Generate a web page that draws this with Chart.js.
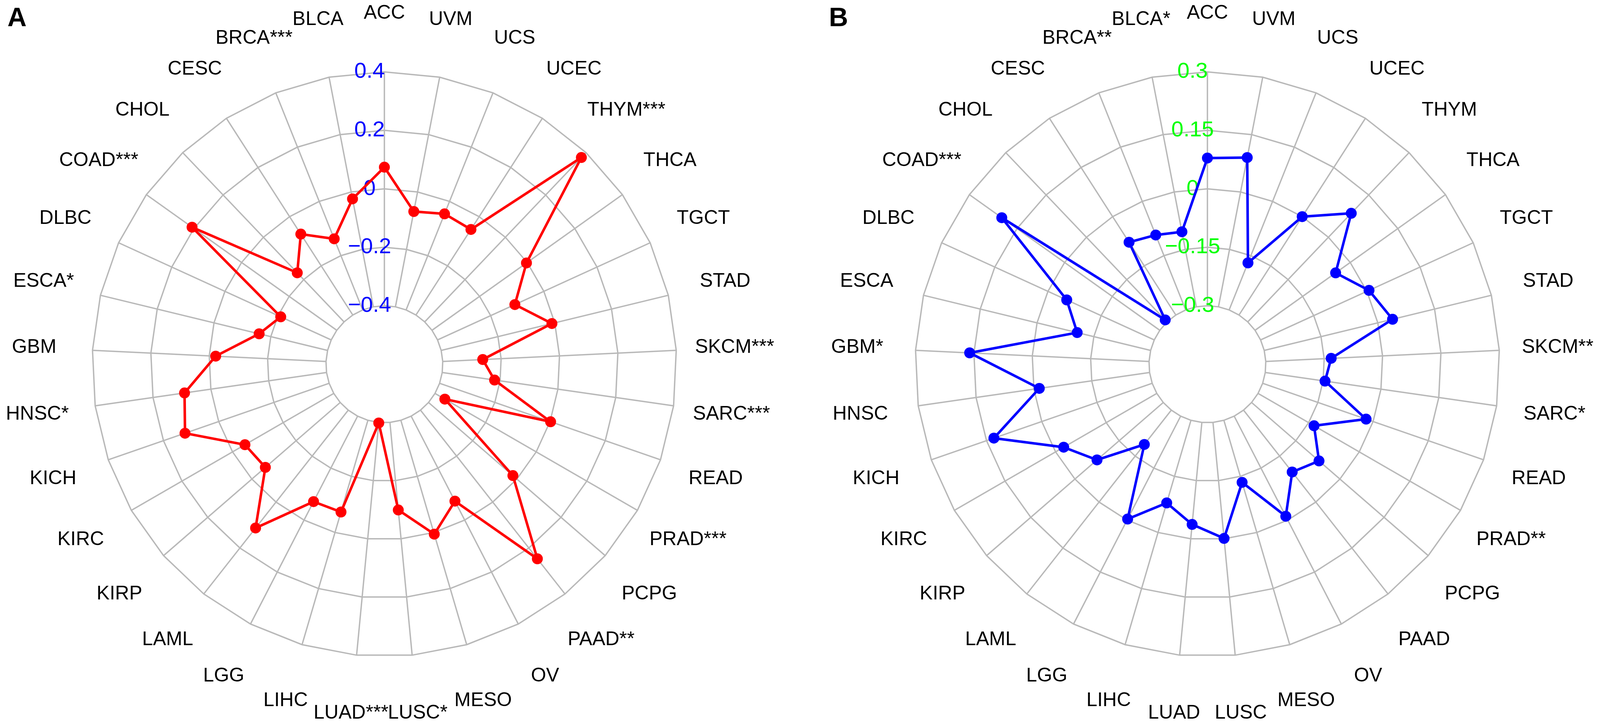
<!DOCTYPE html>
<html>
<head>
<meta charset="utf-8">
<title>Radar charts A and B</title>
<script src="https://cdn.jsdelivr.net/npm/chart.js@4.4.1/dist/chart.umd.min.js"></script>
<style>
  html, body { margin: 0; padding: 0; background: #fff; overflow: hidden; }
  .panel { position: absolute; top: 0; width: 2050px; height: 1863px; }
  #panelA { left: 0; }
  #panelB { left: 2050px; }
</style>
</head>
<body>
<div class="panel" id="panelA"><canvas id="chartA"></canvas></div>
<div class="panel" id="panelB"><canvas id="chartB"></canvas></div>
<script>
// cancer types, clockwise from the top
var labelsA = ['ACC', 'UVM', 'UCS', 'UCEC', 'THYM***', 'THCA', 'TGCT', 'STAD', 'SKCM***', 'SARC***',
  'READ', 'PRAD***', 'PCPG', 'PAAD**', 'OV', 'MESO', 'LUSC*', 'LUAD***', 'LIHC', 'LGG',
  'LAML', 'KIRP', 'KIRC', 'KICH', 'HNSC*', 'GBM', 'ESCA*', 'DLBC', 'COAD***', 'CHOL',
  'CESC', 'BRCA***', 'BLCA'];
var labelsB = ['ACC', 'UVM', 'UCS', 'UCEC', 'THYM', 'THCA', 'TGCT', 'STAD', 'SKCM**', 'SARC*',
  'READ', 'PRAD**', 'PCPG', 'PAAD', 'OV', 'MESO', 'LUSC', 'LUAD', 'LIHC', 'LGG',
  'LAML', 'KIRP', 'KIRC', 'KICH', 'HNSC', 'GBM*', 'ESCA', 'DLBC', 'COAD***', 'CHOL',
  'CESC', 'BRCA**', 'BLCA*'];

var valuesA = [0.074, -0.068, -0.046, -0.052, 0.377, -0.003, -0.109, -0.010, -0.263, -0.219,
  0.002, -0.361, -0.018, 0.247, -0.073, 0.006, -0.099, -0.398, -0.073, -0.071,
  0.113, -0.061, -0.049, 0.122, 0.091, -0.022, -0.159, -0.210, 0.208, -0.168,
  -0.071, -0.138, -0.024];
var valuesB = [0.079, 0.090, -0.170, 0.000, 0.085, -0.046, 0.006, 0.039, -0.132, -0.145,
  -0.019, -0.134, -0.071, -0.098, -0.011, -0.134, -0.001, -0.037, -0.079, -0.003,
  -0.188, -0.075, -0.024, 0.130, -0.014, 0.161, -0.106, -0.053, 0.198, -0.293,
  -0.078, -0.093, -0.104];

var ticksA = [-0.4, -0.2, 0, 0.2, 0.4];
var tickLabelsA = ['\u22120.4', '\u22120.2', '0', '0.2', '0.4'];
var ticksB = [-0.3, -0.15, 0, 0.15, 0.3];
var tickLabelsB = ['\u22120.3', '\u22120.15', '0', '0.15', '0.3'];

var gridColor = '#b8b8b8';
var fontFamily = '"Liberation Sans", Arial, Helvetica, sans-serif';

// spokes start at the inner ring, tick labels sit left of the top axis,
// category labels are centred at 1.2 x the outer radius
var radarDecor = {
  id: 'radarDecor',
  beforeDatasetsDraw: function(chart, args, opts) {
    var r = chart.scales.r, ctx = chart.ctx;
    var inner = r.getDistanceFromCenterForValue(r.ticks[0].value);
    var outer = r.getDistanceFromCenterForValue(r.max);
    ctx.save();
    ctx.strokeStyle = gridColor;
    ctx.lineWidth = 3.5;
    for (var i = 0; i < chart.data.labels.length; i++) {
      var p0 = r.getPointPosition(i, inner);
      var p1 = r.getPointPosition(i, outer);
      ctx.beginPath();
      ctx.moveTo(p0.x, p0.y);
      ctx.lineTo(p1.x, p1.y);
      ctx.stroke();
    }
    ctx.fillStyle = opts.tickColor;
    ctx.font = '56px ' + fontFamily;
    ctx.textAlign = 'center';
    ctx.textBaseline = 'middle';
    r.ticks.forEach(function(t) {
      ctx.fillText(t.label, r.xCenter - 38, r.yCenter - r.getDistanceFromCenterForValue(t.value));
    });
    ctx.restore();
  },
  afterDraw: function(chart, args, opts) {
    var r = chart.scales.r, ctx = chart.ctx;
    var dist = r.getDistanceFromCenterForValue(r.max) * 1.2;
    ctx.save();
    ctx.fillStyle = '#000';
    ctx.font = '50px ' + fontFamily;
    ctx.textAlign = 'center';
    ctx.textBaseline = 'middle';
    chart.data.labels.forEach(function(lab, i) {
      var p = r.getPointPosition(i, dist);
      ctx.fillText(lab, p.x, p.y);
    });
    ctx.font = 'bold 68px ' + fontFamily;
    ctx.textAlign = 'left';
    ctx.textBaseline = 'alphabetic';
    ctx.fillText(opts.letter, opts.letterX, 67);
    ctx.restore();
  }
};

function makeRadar(id, labels, values, color, tickVals, tickLabels, tickColor, minVal, maxVal, pad, letter, letterX) {
  var ctx = document.getElementById(id).getContext('2d');
  return new Chart(ctx, {
    type: 'radar',
    data: {
      labels: labels,
      datasets: [{
        data: values,
        borderColor: color,
        backgroundColor: color,
        borderWidth: 6.5,
        borderJoinStyle: 'round',
        fill: false,
        tension: 0,
        pointRadius: 14,
        pointHoverRadius: 14,
        pointBorderWidth: 0,
        pointBackgroundColor: color
      }]
    },
    options: {
      responsive: true,
      maintainAspectRatio: false,
      animation: false,
      layout: { padding: pad },
      plugins: {
        legend: { display: false },
        tooltip: { enabled: false },
        radarDecor: { tickColor: tickColor, letter: letter, letterX: letterX }
      },
      scales: {
        r: {
          min: minVal,
          max: maxVal,
          afterBuildTicks: function(scale) {
            scale.ticks = tickVals.map(function(v) { return { value: v }; });
          },
          ticks: {
            display: false,
            callback: function(v, i) { return tickLabels[i]; }
          },
          grid: { color: gridColor, lineWidth: 3.5, circular: false },
          angleLines: { display: false },
          pointLabels: { display: false }
        }
      }
    },
    plugins: [radarDecor]
  });
}

makeRadar('chartA', labelsA, valuesA, '#ff0000', ticksA, tickLabelsA, '#0000ff', -0.6, 0.4,
  { left: 236, right: 318, top: 184, bottom: 183 }, 'A', 19);
makeRadar('chartB', labelsB, valuesB, '#0000ff', ticksB, tickLabelsB, '#00ff00', -0.45, 0.3,
  { left: 293, right: 261, top: 184, bottom: 183 }, 'B', 72);
</script>
</body>
</html>
